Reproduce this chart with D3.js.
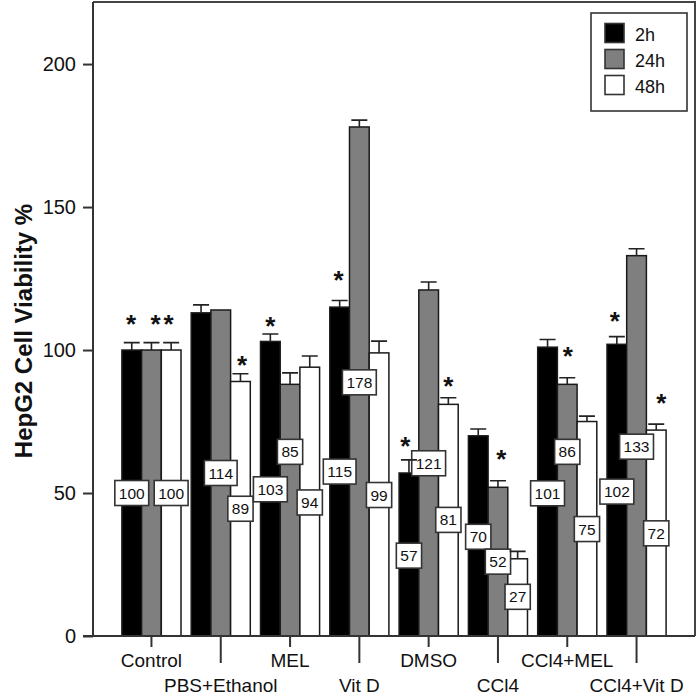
<!DOCTYPE html>
<html>
<head>
<meta charset="utf-8">
<script src="https://cdn.jsdelivr.net/npm/d3@7/dist/d3.min.js"></script>
<style>
  html, body { margin: 0; padding: 0; background: #fff; }
  svg { display: block; }
  text { font-family: "Liberation Sans", Arial, Helvetica, sans-serif; }
</style>
</head>
<body>
<svg id="chart" width="698" height="697"></svg>
<script>
// ---------------- DATA ----------------
const groups = ["Control", "PBS+Ethanol", "MEL", "Vit D", "DMSO", "CCl4", "CCl4+MEL", "CCl4+Vit D"];
const series = ["2h", "24h", "48h"];
const seriesColors = ["#000000", "#7f7f7f", "#ffffff"];

// bar heights (%)
const values2h  = [100, 113, 103, 115, 57, 70, 101, 102];
const values24h = [100, 114, 88, 178, 121, 52, 88, 133];
const values48h = [100, 89, 94, 99, 81, 27, 75, 72];

// upper error (%)
const err2h  = [2.6, 2.8, 2.6, 2.3, 4.6, 2.4, 2.7, 2.7];
const err24h = [2.6, 0,   4.0, 2.4, 2.8, 2.3, 2.3, 2.4];
const err48h = [2.6, 2.7, 3.9, 4.1, 2.3, 2.6, 1.9, 2.1];

// value labels (text shown, null = hidden) and their vertical centre in data units
const label2h   = ["100", null, "103", "115", "57", "70", "101", "102"];
const label2hY  = [50, null, 51.3, 57.5, 28.1, 34.7, 49.9, 50.5];
const label24h  = [null, "114", "85", "178", "121", "52", "86", "133"];
const label24hY = [null, 57, 64.4, 88.7, 60.4, 26, 64.4, 66.2];
const label48h  = ["100", "89", "94", "99", "81", "27", "75", "72"];
const label48hY = [50, 44.5, 46.7, 49.3, 40.6, 13.7, 37.4, 35.9];

// significance stars: [group index, series index, vertical centre in data units]
const starGroup  = [0, 0, 0, 1, 2, 3, 4, 4, 5, 6, 7, 7];
const starSeries = [0, 1, 2, 2, 0, 0, 0, 2, 1, 1, 0, 2];
const starY      = [111.4, 111.4, 111.4, 97.1, 110.5, 126.5, 68.5, 89.5, 63.9, 100, 112.2, 83.7];

const yTicks = [0, 50, 100, 150, 200];
const yLabel = "HepG2 Cell Viability %";

// ---------------- LAYOUT ----------------
const svg = d3.select("#chart");
const plot = { left: 93, right: 695, top: 2, bottom: 636 };

const y = d3.scaleLinear().domain([0, 221.7]).range([plot.bottom, plot.top]);
const x0 = d3.scaleBand().domain(groups).range([plot.left, plot.right])
  .paddingInner(0).paddingOuter(0.3435);
const x1 = d3.scaleBand().domain(series).range([0, x0.bandwidth()])
  .paddingInner(0).paddingOuter(0.259);

const valuesBySeries = [values2h, values24h, values48h];
const errBySeries = [err2h, err24h, err48h];
const labelsBySeries = [label2h, label24h, label48h];
const labelYBySeries = [label2hY, label24hY, label48hY];

const barData = [];
groups.forEach((g, gi) => series.forEach((s, si) => {
  barData.push({ g, gi, s, si, v: valuesBySeries[si][gi], e: errBySeries[si][gi],
    lab: labelsBySeries[si][gi], labY: labelYBySeries[si][gi] });
}));

const cx = d => x0(d.g) + x1(d.s) + x1.bandwidth() / 2;

// frame (top & right)
svg.append("path")
  .attr("d", `M${plot.left},${plot.top}H${plot.right}V${plot.bottom}`)
  .attr("fill", "none").attr("stroke", "#444").attr("stroke-width", 2);

// bars
svg.append("g").selectAll("rect").data(barData).join("rect")
  .attr("x", d => x0(d.g) + x1(d.s))
  .attr("y", d => y(d.v))
  .attr("width", x1.bandwidth())
  .attr("height", d => y(0) - y(d.v))
  .attr("fill", d => seriesColors[d.si])
  .attr("stroke", "#1a1a1a").attr("stroke-width", 1.5);

// value labels
const labFont = 15.5;
const labG = svg.append("g").selectAll("g").data(barData.filter(d => d.lab)).join("g")
  .attr("transform", d => `translate(${cx(d)},${y(d.labY)})`);
labG.each(function(d) {
  const g = d3.select(this);
  const t = g.append("text").text(d.lab)
    .attr("text-anchor", "middle").attr("y", labFont * 0.36)
    .attr("font-size", labFont).attr("fill", "#111");
  const w = t.node().getComputedTextLength() + 8;
  g.insert("rect", "text")
    .attr("x", -w / 2).attr("y", -12.5).attr("width", w).attr("height", 25)
    .attr("fill", "#fff").attr("stroke", "#333").attr("stroke-width", 1.6);
});

// error bars (upper only)
const capW = 16;
const errG = svg.append("g").attr("stroke", "#222").attr("stroke-width", 1.6).attr("fill", "none");
errG.selectAll("path").data(barData.filter(d => d.e > 0)).join("path")
  .attr("d", d => {
    const c = cx(d), y0 = y(d.v), y1 = y(d.v + d.e);
    return `M${c},${y0}V${y1}M${c - capW / 2},${y1}H${c + capW / 2}`;
  });

// stars
const starNudge = [-0.7, 4, -2.6, 1.7, 0, -1, -3.6, 0, 3.4, 0.6, -2, 5];
const starSize = 26;
svg.append("g").selectAll("text").data(starY.map((v, i) => ({ i, v })))
  .join("text")
  .attr("x", d => {
    const g = groups[starGroup[d.i]], s = series[starSeries[d.i]];
    return x0(g) + x1(s) + x1.bandwidth() / 2 + starNudge[d.i];
  })
  .attr("y", d => y(d.v) + starSize * 0.585)
  .attr("text-anchor", "middle").attr("font-size", starSize).attr("font-weight", "bold")
  .attr("fill", "#111").text("*");

// y axis
const yAxis = d3.axisLeft(y).tickValues(yTicks).tickSize(10).tickPadding(7).tickFormat(d3.format("d"));
const yg = svg.append("g").attr("transform", `translate(${plot.left},0)`).call(yAxis);
yg.select(".domain").attr("d", `M-10,${plot.bottom}H0V${plot.top}`).attr("stroke", "#333").attr("stroke-width", 2);
yg.selectAll(".tick line").attr("stroke", "#333").attr("stroke-width", 2);
yg.selectAll(".tick text").attr("font-size", 20).attr("fill", "#111")
  .attr("font-family", "Liberation Sans, Arial, sans-serif");

// x axis
const xAxis = d3.axisBottom(x0).tickSize(0).tickFormat("");
const xg = svg.append("g").attr("transform", `translate(0,${plot.bottom})`).call(xAxis);
xg.select(".domain").attr("d", `M${plot.left},0H${plot.right}`).attr("stroke", "#333").attr("stroke-width", 2);
xg.selectAll(".tick").each(function(d, i) {
  const t = d3.select(this);
  t.select("line").attr("y2", i % 2 === 0 ? 11 : 27).attr("stroke", "#333").attr("stroke-width", 2);
  t.select("text").remove();
  t.append("text").text(d)
    .attr("y", i % 2 === 0 ? 31 : 56)
    .attr("text-anchor", "middle").attr("font-size", 19).attr("fill", "#111")
    .attr("font-family", "Liberation Sans, Arial, sans-serif");
});

// y label
svg.append("text").text(yLabel)
  .attr("transform", `translate(32,${(plot.top + plot.bottom) / 2 + 12}) rotate(-90)`)
  .attr("text-anchor", "middle").attr("font-size", 24).attr("font-weight", "bold").attr("fill", "#111");

// legend
const leg = svg.append("g");
leg.append("rect").attr("x", 591).attr("y", 13).attr("width", 96).attr("height", 98)
  .attr("fill", "#fff").attr("stroke", "#333").attr("stroke-width", 1.6);
const legRows = leg.selectAll("g.row").data(series).join("g").attr("class", "row")
  .attr("transform", (d, i) => `translate(605,${23.5 + i * 26})`);
legRows.append("rect").attr("width", 19).attr("height", 19)
  .attr("fill", (d, i) => seriesColors[i]).attr("stroke", "#333").attr("stroke-width", 1.6);
legRows.append("text").text(d => d).attr("x", 30).attr("y", 17.5)
  .attr("font-size", 18).attr("fill", "#111");
</script>
</body>
</html>
